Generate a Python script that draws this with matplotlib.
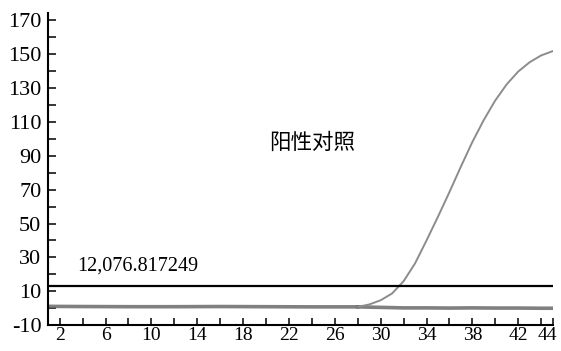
import matplotlib
matplotlib.use('Agg')
import matplotlib.pyplot as plt
import matplotlib.transforms as mtransforms
import numpy as np

# -----------------------------------------------------------------------------
# données
# -----------------------------------------------------------------------------
cycles_base = [1, 4, 8, 12, 16, 20, 24, 28]
rfu_base = [1.2, 1.1, 1.0, 1.0, 1.1, 1.0, 0.9, 0.9]

cycles_pos = [28, 29, 30, 31, 32, 33, 34, 35, 36, 37, 38, 39, 40, 41, 42, 43, 44, 45]
rfu_pos = [0.9, 2.3, 4.8, 8.8, 16.0, 26.5, 40, 54, 68.5, 83.5, 98, 111,
           122.5, 132, 139.5, 145, 149, 151.5]

cycles_neg = [28, 30, 32, 34, 36, 38, 40, 42, 44, 45]
rfu_neg = [0.9, 0.6, 0.3, 0.3, 0.2, 0.3, 0.2, 0.2, 0.1, 0.1]

seuil = 13.2
seuil_label = '12,076.817249'
titre = '阳性对照'

x_ticks = list(range(2, 45, 2)) + [45]
x_labels = ['2', '', '6', '', '10', '', '14', '', '18', '', '22', '', '26', '',
            '30', '', '34', '', '38', '', '42', '44', '']
y_ticks = list(range(-10, 171, 10))
y_labels = [str(v) if (v + 10) % 20 == 0 else '' for v in y_ticks]

# -----------------------------------------------------------------------------
# figure
# -----------------------------------------------------------------------------
fig = plt.figure(figsize=(5.61, 3.51), dpi=100)
ax = fig.add_axes([0.086, 0.073, 0.899, 0.890])

ax.plot(cycles_base, rfu_base, color='#6a6a6a', lw=2.6, alpha=0.85)
ax.plot(cycles_neg, rfu_neg, color='#6a6a6a', lw=2.6, alpha=0.85)
ax.plot(cycles_pos, rfu_pos, color='#8c8c8c', lw=1.4)
ax.axhline(seuil, color='black', lw=1.6)

ax.text(3.5, 25, seuil_label, family='Liberation Serif', fontsize=14.5,
        va='center', ha='left')
ax.text(24, 97.5, titre, family=['Noto Sans CJK SC', 'DejaVu Sans'],
        fontsize=15.5, va='center', ha='center', fontweight='light')

ax.set_xlim(1, 45)
ax.set_ylim(-10, 174)
ax.set_xticks(x_ticks)
ax.set_xticklabels(x_labels)
ax.set_yticks(y_ticks)
ax.set_yticklabels(y_labels)

ax.spines['top'].set_visible(False)
ax.spines['right'].set_visible(False)
for s in ['left', 'bottom']:
    ax.spines[s].set_linewidth(1.5)

ax.tick_params(axis='y', direction='in', length=5.8, width=1.1, pad=5,
               labelsize=16)
ax.tick_params(axis='x', direction='in', length=5, width=1.1, pad=1.5,
               labelsize=14)
for lab in ax.get_xticklabels() + ax.get_yticklabels():
    lab.set_family('Liberation Serif')

# décalage du dernier label "44"
lab44 = ax.get_xticklabels()[21]
lab44.set_transform(lab44.get_transform() +
                    mtransforms.ScaledTranslation(6 / 100, 0, fig.dpi_scale_trans))

fig.savefig('out.png', dpi=100)
